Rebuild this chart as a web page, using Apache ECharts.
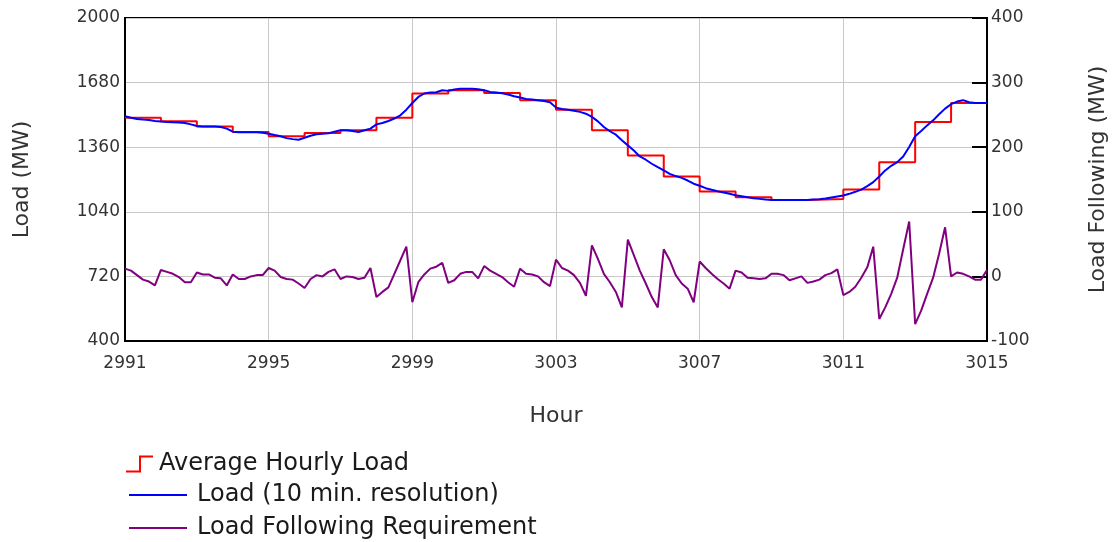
<!DOCTYPE html>
<html>
<head>
<meta charset="utf-8">
<script src="https://cdn.jsdelivr.net/npm/echarts@6/dist/echarts.min.js"></script>
<style>
html,body{margin:0;padding:0;background:#fff;}
#chart{width:1117px;height:542px;}
</style>
</head>
<body>
<div id="chart"></div>
<script>
// Hour of each hourly average (start of hour)
const hourStarts = [2991,2992,2993,2994,2995,2996,2997,2998,2999,3000,3001,3002,3003,3004,3005,3006,3007,3008,3009,3010,3011,3012,3013,3014];
const hourEnd = 3015;
// Average hourly load (MW)
const avgHourlyLoad = [1506,1488,1463,1435,1414,1430,1444,1506,1626,1642,1629,1593,1546,1444,1319,1215,1140,1112,1099,1104,1150,1286,1485,1579];
// Load at 10 min resolution (MW), starting at hour 2991
const load10min = [
 1513,1506,1500,1497,1495,1490,
 1487,1485,1483,1482,1480,1473,
 1465,1462,1462,1462,1460,1452,
 1437,1434,1434,1434,1434,1432,
 1427,1420,1414,1405,1400,1397,
 1407,1417,1424,1427,1429,1437,
 1444,1444,1440,1435,1444,1452,
 1473,1480,1490,1502,1518,1546,
 1579,1609,1626,1631,1632,1642,
 1639,1646,1649,1649,1649,1647,
 1642,1634,1631,1627,1621,1612,
 1606,1599,1596,1593,1589,1583,
 1556,1549,1546,1541,1535,1526,
 1510,1488,1460,1439,1422,1394,
 1369,1344,1314,1298,1278,1261,
 1245,1228,1217,1208,1195,1179,
 1169,1157,1149,1142,1136,1129,
 1122,1117,1112,1107,1104,1101,
 1099,1099,1099,1099,1099,1099,
 1099,1101,1102,1106,1111,1116,
 1121,1129,1139,1150,1167,1187,
 1215,1245,1268,1286,1314,1361,
 1414,1440,1468,1493,1523,1551,
 1573,1586,1593,1583,1579,1579,
 1579
];
// Load following requirement (MW), 10 min resolution
const loadFollowing = [
 12,9,2,-5,-8,-14,
 10,7,4,-1,-9,-9,
 6,3,3,-2,-3,-14,
 3,-4,-4,0,2,2,
 13,9,-1,-4,-5,-11,
 -18,-4,2,0,7,11,
 -4,0,-1,-4,-2,13,
 -32,-24,-17,4,25,46,
 -40,-9,3,12,15,21,
 -10,-6,4,7,7,-3,
 16,9,4,-1,-9,-16,
 12,4,3,0,-9,-15,
 26,13,9,2,-10,-30,
 48,27,4,-9,-24,-48,
 57,33,9,-11,-32,-48,
 42,25,2,-11,-19,-40,
 23,13,4,-4,-11,-19,
 9,6,-2,-3,-4,-3,
 4,4,2,-6,-3,0,
 -10,-8,-5,2,5,11,
 -29,-24,-16,-2,14,46,
 -66,-48,-27,-2,42,85,
 -74,-53,-27,-2,35,76,
 0,6,4,0,-5,-5,
 10
];
const xTicksMin = 2991, xTicksMax = 3015, xTickStep = 4;
const loadMin = 400, loadMax = 2000, loadStep = 320;
const lfMin = -100, lfMax = 400, lfStep = 100;

const FONT = 'DejaVu Sans';
const plain = v => String(v);
const stepData = hourStarts.map((h, i) => [h, avgHourlyLoad[i]]);
stepData.push([hourEnd, avgHourlyLoad[avgHourlyLoad.length - 1]]);
const loadData = load10min.map((v, i) => [hourStarts[0] + i / 6, v]);
const lfData = loadFollowing.map((v, i) => [hourStarts[0] + i / 6, v]);

const chart = echarts.init(document.getElementById('chart'), null, {renderer: 'canvas'});
const legendText = {fontFamily: FONT, fontSize: 24, color: '#1a1a1a'};
chart.setOption({
  animation: false,
  backgroundColor: '#fff',
  grid: {left: 125, right: 128, top: 18, bottom: 201, show: true, borderColor: '#000', borderWidth: 2, backgroundColor: 'transparent'},
  legend: [
    {left: 126, top: 452, padding: 0, orient: 'vertical', itemWidth: 27, itemHeight: 17,
     icon: 'path://M0,15 L13,15 L13,0 L27,0 L27,2 L15,2 L15,17 L0,17 Z',
     itemStyle: {borderWidth: 0}, textStyle: Object.assign({padding: [0,0,0,1]}, legendText),
     data: ['Average Hourly Load'], selectedMode: false},
    {left: 129, top: 483, padding: 0, orient: 'vertical', itemWidth: 58, itemHeight: 2, icon: 'rect',
     itemStyle: {borderWidth: 0}, textStyle: Object.assign({padding: [0,0,0,5]}, legendText),
     data: ['Load (10 min. resolution)'], selectedMode: false},
    {left: 129, top: 516, padding: 0, orient: 'vertical', itemWidth: 58, itemHeight: 2, icon: 'rect',
     itemStyle: {borderWidth: 0}, textStyle: Object.assign({padding: [0,0,0,5]}, legendText),
     data: ['Load Following Requirement'], selectedMode: false}
  ],
  xAxis: {
    type: 'value', min: xTicksMin, max: xTicksMax, interval: xTickStep,
    name: 'Hour', nameLocation: 'middle', nameGap: 64,
    nameTextStyle: {fontFamily: FONT, fontSize: 22, color: '#333'},
    axisLine: {show: true, onZero: false, lineStyle: {color: '#000', width: 2}},
    axisTick: {show: false},
    axisLabel: {fontFamily: FONT, fontSize: 17, color: '#333', margin: 14, formatter: plain, showMinLabel: true, showMaxLabel: true},
    splitLine: {show: true, lineStyle: {color: '#c8c8c8', width: 1}}
  },
  yAxis: [
    {
      type: 'value', min: loadMin, max: loadMax, interval: loadStep, position: 'left',
      name: 'Load (MW)', nameLocation: 'middle', nameGap: 92,
      nameTextStyle: {fontFamily: FONT, fontSize: 22, color: '#333'},
      axisLine: {show: true, onZero: false, lineStyle: {color: '#000', width: 2}},
      axisTick: {show: false},
      axisLabel: {fontFamily: FONT, fontSize: 17, color: '#333', margin: 5, formatter: plain, showMinLabel: true, showMaxLabel: true},
      splitLine: {show: true, lineStyle: {color: '#c8c8c8', width: 1}}
    },
    {
      type: 'value', min: lfMin, max: lfMax, interval: lfStep, position: 'right',
      name: 'Load Following (MW)', nameLocation: 'middle', nameGap: 100, nameRotate: 90,
      nameTextStyle: {fontFamily: FONT, fontSize: 22, color: '#333'},
      axisLine: {show: true, onZero: false, lineStyle: {color: '#000', width: 2}},
      axisTick: {show: true, inside: true, length: 15, lineStyle: {color: '#000', width: 2}},
      axisLabel: {fontFamily: FONT, fontSize: 17, color: '#333', margin: 4, formatter: plain, showMinLabel: true, showMaxLabel: true},
      splitLine: {show: false}
    }
  ],
  series: [
    {name: 'Average Hourly Load', type: 'line', step: 'end', yAxisIndex: 0, data: stepData,
     showSymbol: false, symbol: 'none', color: '#ff0000', lineStyle: {color: '#ff0000', width: 2}},
    {name: 'Load (10 min. resolution)', type: 'line', yAxisIndex: 0, data: loadData,
     showSymbol: false, symbol: 'none', color: '#0000ff', lineStyle: {color: '#0000ff', width: 2}},
    {name: 'Load Following Requirement', type: 'line', yAxisIndex: 1, data: lfData,
     showSymbol: false, symbol: 'none', color: '#800080', lineStyle: {color: '#800080', width: 2}}
  ]
});
</script>
</body>
</html>
